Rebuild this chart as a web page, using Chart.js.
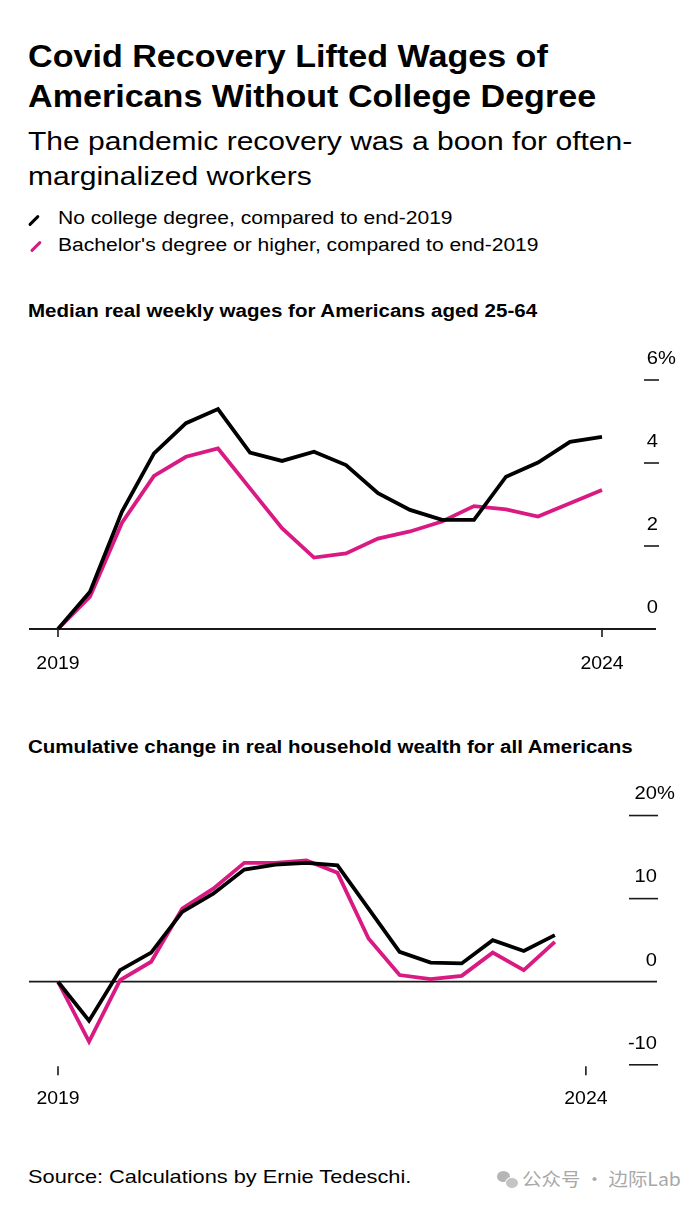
<!DOCTYPE html>
<html>
<head>
<meta charset="utf-8">
<script src="https://cdn.jsdelivr.net/npm/chart.js@4"></script>
<style>
  html, body { margin:0; padding:0; background:#fff; }
  body { width:700px; height:1209px; position:relative; overflow:hidden; font-family:"Liberation Sans", Arial, sans-serif; color:#000; }
  .abs { position:absolute; white-space:nowrap; transform-origin:0 0; }
  #title { left:28px; top:36.6px; font-weight:bold; font-size:31px; line-height:40px; transform:scaleX(1.10); }
  #subtitle { left:28px; top:124px; font-size:26px; line-height:35px; transform:scaleX(1.155); }
  .leg { left:58px; font-size:18px; line-height:22px; transform:scaleX(1.17); }
  .slash { position:absolute; width:14px; height:3.2px; border-radius:1.5px; transform:rotate(-45deg); }
  .ctitle { left:28px; font-weight:bold; font-size:18px; line-height:22px; transform:scaleX(1.14); }
  #source { left:28px; top:1166px; font-size:19px; line-height:22px; transform:scaleX(1.146); }
  #wm { left:522px; top:1167px; font-size:18px; line-height:22px; color:#a8a8a8; font-family:"Noto Sans CJK SC", sans-serif; transform:scaleX(1.08); }
  canvas { position:absolute; left:0; }
</style>
</head>
<body>
<div id="title" class="abs">Covid Recovery Lifted Wages of<br>Americans Without College Degree</div>
<div id="subtitle" class="abs">The pandemic recovery was a boon for often-<br>marginalized workers</div>
<div class="slash" style="left:27px; top:219px; background:#000;"></div>
<div class="abs leg" style="top:207px;">No college degree, compared to end-2019</div>
<div class="slash" style="left:29px; top:245px; background:#d91a83;"></div>
<div class="abs leg" style="top:234px;">Bachelor's degree or higher, compared to end-2019</div>
<div class="abs ctitle" style="top:300px;">Median real weekly wages for Americans aged 25-64</div>
<div class="abs ctitle" style="top:736px;">Cumulative change in real household wealth for all Americans</div>
<div id="source" class="abs">Source: Calculations by Ernie Tedeschi.</div>
<div class="abs" style="left:497px; top:1171px; width:13px; height:11px; border-radius:50%; background:#b5b5b5;"></div>
<div class="abs" style="left:505px; top:1177px; width:12px; height:10px; border-radius:50%; background:#c4c4c4; border:1px solid #fff;"></div>
<div id="wm" class="abs">公众号 · 边际Lab</div>

<canvas id="c1" width="700" height="360" style="top:330px; width:700px; height:360px;"></canvas>
<canvas id="c2" width="700" height="350" style="top:770px; width:700px; height:350px;"></canvas>

<script>
// ---- Data (quarterly, end-2019 = 0) ----
const quarters = ['2019Q4','2020Q1','2020Q2','2020Q3','2020Q4','2021Q1','2021Q2','2021Q3','2021Q4',
                  '2022Q1','2022Q2','2022Q3','2022Q4','2023Q1','2023Q2','2023Q3','2023Q4','2024Q1'];
const wagesNoCollege = [0, 0.90, 2.83, 4.23, 4.96, 5.30, 4.25, 4.05, 4.27, 3.95, 3.27, 2.87, 2.63, 2.63, 3.67, 4.01, 4.51, 4.63];
const wagesBachelor  = [0, 0.78, 2.56, 3.69, 4.15, 4.35, 3.39, 2.43, 1.72, 1.82, 2.18, 2.35, 2.59, 2.96, 2.88, 2.71, 3.03, 3.35];
const wealthNoCollege = [0, -4.7, 1.4, 3.5, 8.4, 10.6, 13.5, 14.1, 14.3, 14.0, 8.8, 3.6, 2.3, 2.2, 5.0, 3.7, 5.6];
const wealthBachelor  = [0, -7.2, 0.2, 2.4, 8.8, 11.2, 14.3, 14.3, 14.6, 13.1, 5.2, 0.8, 0.3, 0.7, 3.5, 1.4, 4.8];
const xTickLabels = ['2019', '2024'];
const xTickIndex = [0, 17];
const wageTicks = [0, 2, 4, 6];
const wealthTicks = [-10, 0, 10, 20];

const BLACK = '#000000';
const PINK = '#d91a83';
const FONT = '"Liberation Sans", Arial, sans-serif';

function stretchedText(ctx, text, x, y, align, k) {
  ctx.save();
  ctx.translate(x, y);
  ctx.scale(k, 1);
  ctx.textAlign = align;
  ctx.fillText(text, 0, 0);
  ctx.restore();
}

function axesPlugin(cfg) {
  return {
    id: 'customAxes',
    beforeDatasetsDraw(chart) {
      const ctx = chart.ctx;
      const xs = chart.scales.x, ys = chart.scales.y;
      const ca = chart.chartArea;
      ctx.save();
      // zero line
      const y0 = ys.getPixelForValue(0);
      ctx.strokeStyle = '#1a1a1a';
      ctx.lineWidth = 1.8;
      ctx.beginPath();
      ctx.moveTo(ca.left, y0); ctx.lineTo(ca.right, y0);
      ctx.stroke();
      // y ticks: dash + label above
      ctx.font = '17.5px ' + FONT;
      ctx.fillStyle = '#000';
      ctx.textBaseline = 'middle';
      cfg.yTicks.forEach((v, i) => {
        const py = ys.getPixelForValue(v);
        if (v !== 0) {
          ctx.lineWidth = 1.6;
          ctx.beginPath();
          ctx.moveTo(cfg.dashX1, py); ctx.lineTo(cfg.dashX2, py);
          ctx.stroke();
        }
        stretchedText(ctx, String(v), cfg.labelRight, py - 21, 'right', 1.15);
        if (i === cfg.yTicks.length - 1) {
          stretchedText(ctx, '%', cfg.labelRight, py - 21, 'left', 1.15);
        }
      });
      // x ticks
      ctx.lineWidth = 1.6;
      ctx.font = '18px ' + FONT;
      xTickIndex.forEach((idx, i) => {
        const px = xs.getPixelForValue(idx);
        const t1 = cfg.xTickFrom(ys), t2 = t1 + cfg.xTickLen;
        ctx.beginPath();
        ctx.moveTo(px, t1); ctx.lineTo(px, t2);
        ctx.stroke();
        stretchedText(ctx, xTickLabels[i], px, t1 + cfg.xLabelGap, 'center', 1.08);
      });
      ctx.restore();
    }
  };
}

function makeChart(id, a, b, opts) {
  return new Chart(document.getElementById(id), {
    type: 'line',
    data: {
      datasets: [
        { label: 'No college degree, compared to end-2019', data: a.map((v, i) => ({x: i, y: v})),
          borderColor: BLACK, borderWidth: 3.8, pointRadius: 0, tension: 0, fill: false },
        { label: "Bachelor's degree or higher, compared to end-2019", data: b.map((v, i) => ({x: i, y: v})),
          borderColor: PINK, borderWidth: 3.8, pointRadius: 0, tension: 0, fill: false }
      ]
    },
    options: {
      responsive: false, animation: false, devicePixelRatio: 1,
      layout: { padding: opts.padding },
      plugins: { legend: { display: false }, tooltip: { enabled: false } },
      scales: {
        x: { type: 'linear', display: false, min: opts.xMin, max: opts.xMax },
        y: { type: 'linear', display: false, min: opts.yMin, max: opts.yMax }
      }
    },
    plugins: [axesPlugin(opts.axes)]
  });
}

makeChart('c1', wagesNoCollege, wagesBachelor, {
  padding: { left: 29, right: 44, top: 8.5, bottom: 40.25 },
  xMin: -0.906, xMax: 18.6875, yMin: -0.5, yMax: 7,
  axes: { yTicks: wageTicks, dashX1: 644, dashX2: 659, labelRight: 658,
          xTickFrom: ys => ys.getPixelForValue(0), xTickLen: 8, xLabelGap: 35 }
});

makeChart('c2', wealthNoCollege, wealthBachelor, {
  padding: { left: 29, right: 43, top: 12.3, bottom: 38.6 },
  xMin: -0.934, xMax: 19.29, yMin: -12, yMax: 24,
  axes: { yTicks: wealthTicks, dashX1: 629, dashX2: 658, labelRight: 657,
          xTickFrom: ys => ys.getPixelForValue(-10) + 1.5, xTickLen: 9, xLabelGap: 33 }
});
</script>
</body>
</html>
